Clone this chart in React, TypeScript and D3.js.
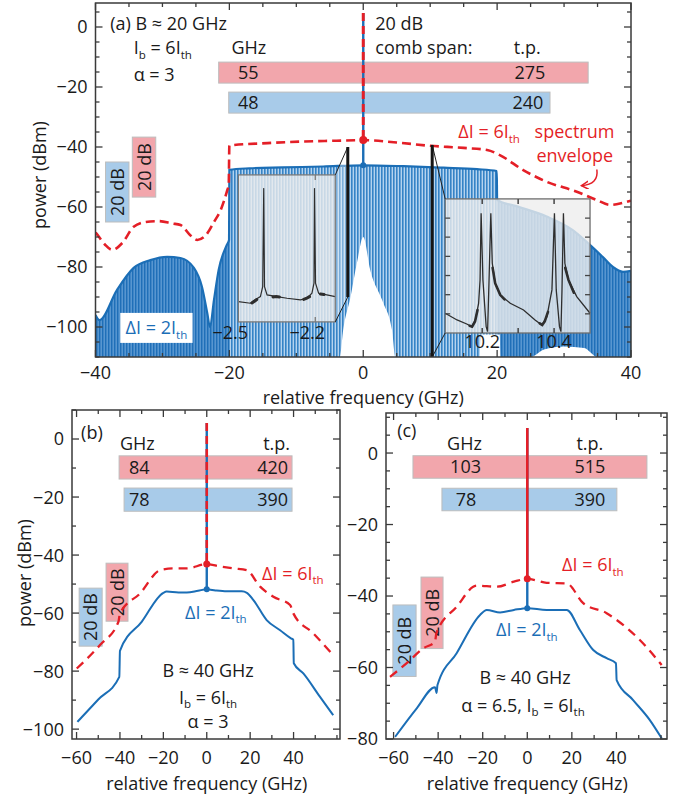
import React, { useEffect, useRef } from "react";
import * as d3 from "d3";

type Pt = [number, number];

// ---------- (a) B ≈ 20 GHz : x in GHz, y in dBm ----------
// upper edge of the ΔI = 2Ith comb lines
const combTopA: Pt[] = [
  [-40, -96], [-39.4, -97.7], [-36.8, -87.7], [-34.3, -80.3], [-31.8, -77.7], [-29.3, -76.6],
  [-27.3, -77], [-25.3, -80.3], [-24.1, -86.6], [-23.3, -95.4], [-22.9, -100], [-22.3, -91],
  [-21.6, -81], [-20.4, -72.7], [-20.05, -71], [-20, -47.6], [-17, -47.1], [-12, -46.8],
  [-6, -46.5], [0, -46.1], [6, -46.4], [12, -46.9], [17, -47.4], [19.95, -48], [20, -57.6],
  [23, -59.8], [27.4, -63.2], [31.3, -67.7], [33.9, -72.7], [35.8, -76.7], [37.3, -80],
  [38.8, -81.6], [40, -81.3],
];
// lower edge of the comb lines (white below it)
const combFloorA: Pt[] = [
  [-40, -110], [-3.5, -110], [-3, -101], [-1.9, -90], [-0.95, -78.7], [0, -70], [1.04, -81],
  [3, -92], [4.3, -101], [4.8, -110], [17.4, -110], [17.5, -102.5], [20.4, -102.5],
  [20.5, -110], [25, -110], [27, -107.5], [30, -106.5], [33, -107], [35, -110], [40, -110],
];
// ΔI = 6Ith spectrum envelope
const envelopeA: Pt[] = [
  [-40, -68.5], [-39.7, -69.3], [-38.6, -72.5], [-37.5, -74.3], [-36, -72], [-34.3, -66.6],
  [-32.5, -65], [-30.6, -64.7], [-28.5, -65.5], [-27.3, -66], [-25.8, -69.5], [-24.8, -71],
  [-23.3, -68.8], [-22.3, -65], [-21.3, -61], [-20.3, -54.3], [-20.1, -52.7], [-20, -39.5],
  [-14.3, -38.7], [-9.4, -38.2], [-4, -37.9], [0, -37.7], [5, -38.5], [10, -39.6], [15, -40.3],
  [18.5, -41], [20.4, -42.7], [23.9, -47.7], [27.4, -51.6], [31.9, -54.9], [34.9, -57.7],
  [36.9, -59.3], [38.8, -58.6], [40, -57.9],
];
const carrierA = { top: 4.7, red: -37.7, blue: -46.1 };
const spanA = { red: [-21.6, 33.6], blue: [-20.1, 27.9], redText: ["55", "275"], blueText: ["48", "240"] };

// inset line shapes (GHz, arb. units)
const insetLeftTrace: Pt[] = [
  [-2.5, 0.138], [-2.453, 0.127], [-2.44, 0.145], [-2.414, 0.172], [-2.405, 0.24], [-2.401, 0.91],
  [-2.398, 0.24], [-2.388, 0.184], [-2.349, 0.172], [-2.31, 0.161], [-2.258, 0.15], [-2.232, 0.161],
  [-2.213, 0.195], [-2.205, 0.263], [-2.203, 0.91], [-2.199, 0.263], [-2.187, 0.195],
  [-2.155, 0.184], [-2.122, 0.172],
];
const insetLeftBlobs: Pt[][] = [
  [[-2.447, 0.129], [-2.437, 0.14], [-2.428, 0.152]],
  [[-2.365, 0.17], [-2.352, 0.173], [-2.34, 0.169]],
  [[-2.245, 0.153], [-2.233, 0.162], [-2.222, 0.172]],
  [[-2.18, 0.19], [-2.166, 0.186]],
];
const insetRightTrace: Pt[] = [
  [10.097, 1.03], [10.13, 0.68], [10.157, 0.47], [10.171, 0.33], [10.181, 0.68], [10.19, 1.55],
  [10.194, 2.77], [10.197, 6.25], [10.202, 2.77], [10.211, 0.33], [10.215, 0.07], [10.219, 2.77],
  [10.224, 6.25], [10.228, 3.64], [10.236, 2.6], [10.25, 1.99], [10.278, 1.55], [10.315, 1.2],
  [10.347, 0.68], [10.366, 0.42], [10.38, 0.85], [10.394, 2.25], [10.401, 6.25], [10.406, 2.25],
  [10.415, 0.33], [10.419, 0.07], [10.422, 2.25], [10.426, 6.25], [10.43, 3.64], [10.44, 2.77],
  [10.463, 1.9], [10.5, 1.03],
];
const insetRightBlobs: Pt[][] = [
  [[10.165, 0.38], [10.172, 0.33], [10.18, 0.6], [10.187, 1.2]],
  [[10.36, 0.5], [10.367, 0.42], [10.374, 0.6], [10.383, 1.1]],
  [[10.229, 3.4], [10.236, 2.6], [10.25, 1.99], [10.262, 1.75]],
  [[10.431, 3.4], [10.44, 2.77], [10.455, 2.1]],
];

// ---------- (b) B ≈ 40 GHz, α = 3 ----------
const blueB: Pt[] = [
  [-59.6, -97.5], [-50, -89.8], [-40.3, -82], [-40, -73], [-30, -63], [-20, -53], [-18.5, -52.6],
  [-13, -52.9], [-9.2, -52.9], [-4, -52.3], [0, -51.8], [4, -52.2], [9.2, -52.5], [16.1, -52.5],
  [18.5, -53], [21.5, -55.5], [27.6, -62.4], [33.8, -65.9], [38.8, -68.7], [39.9, -69.2],
  [40.1, -77.3], [44.5, -80.8], [52.2, -88.9], [58.3, -95.2],
];
const redB: Pt[] = [
  [-59.9, -79.1], [-49.2, -71], [-40.7, -63], [-40, -60.1], [-30.7, -53.2], [-21.5, -45.2],
  [-15.4, -44.6], [-9.2, -44.6], [0, -43.1], [6, -43.9], [12.3, -44.6], [18.4, -45.2],
  [24.6, -50.9], [30.7, -54.4], [38.4, -57.2], [39.9, -60.1], [49.1, -67], [58.3, -74.5],
];
const carrierB = { top: 5.5, red: -43.1, blue: -51.8 };
const spanB = { red: [-40.4, 39.3], blue: [-38.1, 39.3], redText: ["84", "420"], blueText: ["78", "390"] };

// ---------- (c) B ≈ 40 GHz, α = 6.5 ----------
const blueC: Pt[] = [
  [-59.3, -79.4], [-49.6, -71.4], [-41.4, -65.5], [-40.7, -67.1], [-40.3, -64.9], [-31.7, -56],
  [-21.2, -45.3], [-18.2, -43.9], [-12.2, -44.6], [-6, -43.9], [0, -43.4], [8.7, -43.9],
  [17.7, -43.9], [23.6, -49.5], [29.6, -55.1], [35.6, -57.4], [39.8, -58.8], [40.1, -63.5],
  [47.5, -69.1], [55, -74.7], [60.3, -79.8],
];
const redC: Pt[] = [
  [-61.6, -62.6], [-54.1, -58.8], [-46.6, -54.6], [-41.4, -52.8], [-40.8, -50.4], [-31.7, -43],
  [-22.7, -37.1], [-13.7, -37.4], [-6, -36], [0, -35.2], [8.7, -36.3], [17.7, -36.5],
  [25.1, -42], [35.6, -44.8], [40.1, -46.7], [50.5, -52.3], [60.3, -59.3],
];
const carrierC = { top: 7, red: -35.2, blue: -43.4 };
const spanC = { red: [-51.3, 53.7], blue: [-38.3, 40.2], redText: ["103", "515"], blueText: ["78", "390"] };

const RED = "#e41f27";
const BLUE = "#1b6eb6";
const PINK_BOX = "#f2a6ac";
const BLUE_BOX = "#a8cbe9";
const INK = "#1a1a1a";
const FONT = "'Open Sans', 'Liberation Sans', sans-serif";
const FS = 18;

const fmt = (v: number) => (v < 0 ? "\u2212" + -v : String(v));

function addText(g: any, x: number, y: number, segs: any[], anchor = "start", color = INK, size = FS) {
  const t = g
    .append("text")
    .attr("x", x)
    .attr("y", y + size * 0.36)
    .attr("text-anchor", anchor)
    .attr("fill", color)
    .attr("font-size", size);
  const off = size * 0.26;
  let shifted = false;
  segs.forEach((s) => {
    if (Array.isArray(s)) {
      t.append("tspan").attr("font-size", size * 0.64).attr("dy", shifted ? 0 : off).text(s[0]);
      shifted = true;
    } else {
      t.append("tspan").attr("dy", shifted ? -off : 0).text(s);
      shifted = false;
    }
  });
  return t;
}

function frame(g: any, x: any, y: any, xt: number[], xl: number[], yt: number[], yl: number[], gap: number) {
  const [l, r] = x.range();
  const [b, t] = y.range();
  const tick = (x1: number, y1: number, x2: number, y2: number) =>
    g.append("line").attr("x1", x1).attr("y1", y1).attr("x2", x2).attr("y2", y2)
      .attr("stroke", "#3a3a3a").attr("stroke-width", 1.3);
  xt.forEach((v) => {
    const L = xl.includes(v) ? 7 : 4;
    tick(x(v), b, x(v), b - L);
    tick(x(v), t, x(v), t + L);
  });
  yt.forEach((v) => {
    const L = yl.includes(v) ? 7 : 4;
    tick(l, y(v), l + L, y(v));
    tick(r, y(v), r - L, y(v));
  });
  g.append("rect").attr("x", l).attr("y", t).attr("width", r - l).attr("height", b - t)
    .attr("fill", "none").attr("stroke", "#3a3a3a").attr("stroke-width", 1.5);
  xl.forEach((v) => addText(g, x(v), b + gap, [fmt(v)], "middle"));
  yl.forEach((v) => addText(g, l - 8, y(v), [fmt(v)], "end"));
}

function dbBox(g: any, x: any, y: any, x0: number, x1: number, top: number, fill: string) {
  const yt = y(top), yb = y(top - 20);
  g.append("rect").attr("x", x(x0)).attr("y", yt).attr("width", x(x1) - x(x0)).attr("height", yb - yt)
    .attr("fill", fill).attr("stroke", "#bdbdbd").attr("stroke-width", 1);
  const cx = (x(x0) + x(x1)) / 2, cy = (yt + yb) / 2;
  g.append("text").attr("transform", `translate(${cx + 6.5},${cy}) rotate(-90)`)
    .attr("text-anchor", "middle").attr("font-size", FS).attr("fill", INK).text("20 dB");
}

function spanBar(g: any, x: any, y: any, span: number[], mid: number, half: number, fill: string) {
  g.append("rect").attr("x", x(span[0])).attr("y", y(mid + half)).attr("width", x(span[1]) - x(span[0]))
    .attr("height", y(mid - half) - y(mid + half)).attr("fill", fill).attr("stroke", "#bdbdbd").attr("stroke-width", 1);
}

function stripes(defs: any, id: string, base: string, light: string, w: number) {
  const p = defs.append("pattern").attr("id", id).attr("patternUnits", "userSpaceOnUse")
    .attr("width", 3).attr("height", 400);
  p.append("rect").attr("width", 3).attr("height", 400).attr("fill", base);
  p.append("rect").attr("x", 1.6).attr("width", w).attr("height", 400).attr("fill", light);
}

function drawA(svg: any) {
  const x = d3.scaleLinear().domain([-40, 40]).range([95.5, 631]);
  const y = d3.scaleLinear().domain([-110, 8]).range([357, 3]);
  const defs = svg.append("defs");
  defs.append("clipPath").attr("id", "clipA").append("rect")
    .attr("x", 95.5).attr("y", 3).attr("width", 631 - 95.5).attr("height", 354);
  defs.append("clipPath").attr("id", "clipMid").append("rect")
    .attr("x", x(-20)).attr("y", 3).attr("width", x(20) - x(-20)).attr("height", 354);
  stripes(defs, "combDark", "#1f6fb8", "#6ea6db", 1.1);
  stripes(defs, "combLight", "#3583c6", "#b4d3ef", 1.4);
  const mk = defs.append("marker").attr("id", "arrowRed").attr("markerUnits", "userSpaceOnUse")
    .attr("markerWidth", 10).attr("markerHeight", 10).attr("refX", 7).attr("refY", 4).attr("orient", "auto");
  mk.append("path").attr("d", "M0,0 L7,4 L0,8").attr("fill", "none").attr("stroke", RED).attr("stroke-width", 1.5);

  const g = svg.append("g");
  const plot = g.append("g").attr("clip-path", "url(#clipA)");
  const area = d3.area<Pt>().x((d) => x(d[0])).y0(y(-110)).y1((d) => y(d[1])).curve(d3.curveMonotoneX);
  const line = d3.line<Pt>().x((d) => x(d[0])).y((d) => y(d[1])).curve(d3.curveMonotoneX);

  plot.append("path").attr("d", area(combTopA)).attr("fill", "url(#combDark)");
  plot.append("g").attr("clip-path", "url(#clipMid)").append("path").attr("d", area(combTopA))
    .attr("fill", "url(#combLight)");
  plot.append("path").attr("d", area(combFloorA)).attr("fill", "#fff");

  spanBar(plot, x, y, spanA.red, -15.2, 3.5, PINK_BOX);
  spanBar(plot, x, y, spanA.blue, -25.2, 3.5, BLUE_BOX);
  dbBox(plot, x, y, -34.5, -31, -36.7, PINK_BOX);
  dbBox(plot, x, y, -38.5, -35, -45, BLUE_BOX);

  plot.append("path").attr("d", line(combTopA)).attr("fill", "none").attr("stroke", BLUE).attr("stroke-width", 2.2);
  plot.append("line").attr("x1", x(0)).attr("x2", x(0)).attr("y1", y(carrierA.top)).attr("y2", y(carrierA.blue))
    .attr("stroke", BLUE).attr("stroke-width", 2.4);
  plot.append("circle").attr("cx", x(0)).attr("cy", y(carrierA.blue)).attr("r", 3).attr("fill", BLUE);
  plot.append("path").attr("d", line(envelopeA)).attr("fill", "none").attr("stroke", RED)
    .attr("stroke-width", 2.6).attr("stroke-dasharray", "9 5");
  plot.append("line").attr("x1", x(0)).attr("x2", x(0)).attr("y1", y(carrierA.top)).attr("y2", y(carrierA.red))
    .attr("stroke", RED).attr("stroke-width", 3).attr("stroke-dasharray", "8 5");
  plot.append("circle").attr("cx", x(0)).attr("cy", y(carrierA.red)).attr("r", 4).attr("fill", RED);

  // ---- left inset (zoom around −2.3 GHz)
  const l0 = x(-18.66), l1 = x(-4.18), lt = y(-49.3), lb = y(-98.3);
  const xi1 = d3.scaleLinear().domain([-2.5, -2.122]).range([l0, l1]);
  const yi1 = d3.scaleLinear().domain([0, 1]).range([lb, lt]);
  const barL = x(-2.31);
  plot.append("path")
    .attr("d", `M${l1},${lt} L${barL},${y(-40)} L${barL},${y(-90)} L${l1},${lb} Z`)
    .attr("fill", "#fff").attr("opacity", 0.35);
  plot.append("rect").attr("x", l0).attr("y", lt).attr("width", l1 - l0).attr("height", lb - lt)
    .attr("fill", "#eeeeee").attr("opacity", 0.8);
  const iline1 = d3.line<Pt>().x((d) => xi1(d[0])).y((d) => yi1(d[1]));
  plot.append("path").attr("d", iline1(insetLeftTrace)).attr("fill", "none").attr("stroke", "#2e2e2e").attr("stroke-width", 1.2);
  insetLeftBlobs.forEach((b) =>
    plot.append("path").attr("d", iline1(b)).attr("fill", "none").attr("stroke", "#2e2e2e").attr("stroke-width", 3).attr("stroke-linecap", "round"));
  plot.append("rect").attr("x", l0).attr("y", lt).attr("width", l1 - l0).attr("height", lb - lt)
    .attr("fill", "none").attr("stroke", "#7a7a7a").attr("stroke-width", 1.3);
  [-2.2].forEach((v) => {
    plot.append("line").attr("x1", xi1(v)).attr("x2", xi1(v)).attr("y1", lt).attr("y2", lt + 5).attr("stroke", "#7a7a7a").attr("stroke-width", 1.3);
    plot.append("line").attr("x1", xi1(v)).attr("x2", xi1(v)).attr("y1", lb).attr("y2", lb - 5).attr("stroke", "#7a7a7a").attr("stroke-width", 1.3);
  });
  plot.append("line").attr("x1", l1).attr("y1", lt).attr("x2", barL).attr("y2", y(-40)).attr("stroke", "#222").attr("stroke-width", 1);
  plot.append("line").attr("x1", l1).attr("y1", lb).attr("x2", barL).attr("y2", y(-90)).attr("stroke", "#222").attr("stroke-width", 1);
  plot.append("line").attr("x1", barL).attr("x2", barL).attr("y1", y(-40)).attr("y2", y(-90)).attr("stroke", "#151515").attr("stroke-width", 3);
  [-2.5, -2.2].forEach((v) => addText(g, xi1(v) - 8, lb + 11, [fmt(v)], "middle"));

  // ---- right inset (zoom around 10.3 GHz)
  const r0 = x(12.24), r1 = x(33.88), rt = y(-57.3), rb = y(-102);
  const xi2 = d3.scaleLinear().domain([10.097, 10.5]).range([r0, r1]);
  const yi2 = d3.scaleLinear().domain([0, 7]).range([rb, rt]);
  const barR = x(10.3);
  plot.append("rect").attr("x", r0).attr("y", rt).attr("width", r1 - r0).attr("height", rb - rt)
    .attr("fill", "#eeeeee").attr("opacity", 0.8);
  const iline2 = d3.line<Pt>().x((d) => xi2(d[0])).y((d) => yi2(d[1]));
  plot.append("path").attr("d", iline2(insetRightTrace)).attr("fill", "none").attr("stroke", "#2e2e2e").attr("stroke-width", 1.3);
  insetRightBlobs.forEach((b) =>
    plot.append("path").attr("d", iline2(b)).attr("fill", "none").attr("stroke", "#2e2e2e").attr("stroke-width", 2.6).attr("stroke-linecap", "round"));
  plot.append("rect").attr("x", r0).attr("y", rt).attr("width", r1 - r0).attr("height", rb - rt)
    .attr("fill", "none").attr("stroke", "#6e6e6e").attr("stroke-width", 1.3);
  [10.2, 10.3, 10.4].forEach((v) => {
    plot.append("line").attr("x1", xi2(v)).attr("x2", xi2(v)).attr("y1", rt).attr("y2", rt + 5).attr("stroke", "#444").attr("stroke-width", 1.5);
    plot.append("line").attr("x1", xi2(v)).attr("x2", xi2(v)).attr("y1", rb).attr("y2", rb - 5).attr("stroke", "#444").attr("stroke-width", 1.5);
  });
  d3.range(1, 7).forEach((v) => {
    plot.append("line").attr("x1", r0).attr("x2", r0 + 5).attr("y1", yi2(v)).attr("y2", yi2(v)).attr("stroke", "#444").attr("stroke-width", 1.3);
    plot.append("line").attr("x1", r1).attr("x2", r1 - 5).attr("y1", yi2(v)).attr("y2", yi2(v)).attr("stroke", "#444").attr("stroke-width", 1.3);
  });
  plot.append("line").attr("x1", barR).attr("y1", y(-39.3)).attr("x2", r0).attr("y2", rt).attr("stroke", "#222").attr("stroke-width", 1);
  plot.append("line").attr("x1", barR).attr("y1", y(-110)).attr("x2", r0).attr("y2", rb).attr("stroke", "#222").attr("stroke-width", 1);
  plot.append("line").attr("x1", barR).attr("x2", barR).attr("y1", y(-39.3)).attr("y2", y(-110)).attr("stroke", "#151515").attr("stroke-width", 3);
  [10.2, 10.4].forEach((v) => addText(g, xi2(v), rb + 9, [String(v)], "middle"));

  // ---- labels
  plot.append("rect").attr("x", x(-36.3)).attr("y", y(-95.3)).attr("width", x(-25.5) - x(-36.3))
    .attr("height", y(-105.3) - y(-95.3)).attr("fill", "#fff");
  addText(g, x(-30.9), y(-100.3), ["\u0394I = 2I", ["th"]], "middle", BLUE);
  addText(g, x(-37.8), y(1.3), ["(a) B \u2248 20 GHz"]);
  addText(g, x(-34.3), y(-6.9), ["I", ["b"], " = 6I", ["th"]]);
  addText(g, x(-34.3), y(-15.8), ["\u03b1 = 3"]);
  addText(g, x(-19.7), y(-6.7), ["GHz"]);
  addText(g, x(1.8), y(1.3), ["20 dB"]);
  addText(g, x(1.8), y(-6.7), ["comb span:"]);
  addText(g, x(22.5), y(-6.7), ["t.p."]);
  addText(g, x(-18.7), y(-15.2), [spanA.redText[0]]);
  addText(g, x(27.2), y(-15.2), [spanA.redText[1]], "end");
  addText(g, x(-18.7), y(-25.2), [spanA.blueText[0]]);
  addText(g, x(26.9), y(-25.2), [spanA.blueText[1]], "end");
  addText(g, x(14.2), y(-35), ["\u0394I = 6I", ["th"]], "start", RED);
  addText(g, x(25.6), y(-35), ["spectrum"], "start", RED);
  addText(g, x(31.6), y(-43), ["envelope"], "middle", RED);
  g.append("path")
    .attr("d", `M${x(34.9)},${y(-47.5)} Q${x(35.2)},${y(-52.5)} ${x(32.6)},${y(-52.9)}`)
    .attr("fill", "none").attr("stroke", RED).attr("stroke-width", 1.5).attr("marker-end", "url(#arrowRed)");

  frame(g, x, y, d3.range(-40, 40.01, 5), [-40, -20, 0, 20, 40], d3.range(-110, 5.01, 5),
    [0, -20, -40, -60, -80, -100], 16);
  addText(g, x(0), 397.5, ["relative frequency (GHz)"], "middle");
  g.append("text").attr("transform", "translate(46,175) rotate(-90)").attr("text-anchor", "middle")
    .attr("font-size", FS).attr("fill", INK).text("power (dBm)");
}

function drawSmall(svg: any, o: any) {
  const x = d3.scaleLinear().domain(o.xd).range(o.xr);
  const y = d3.scaleLinear().domain(o.yd).range(o.yr);
  svg.select("defs").append("clipPath").attr("id", o.id).append("rect")
    .attr("x", o.xr[0]).attr("y", o.yr[1]).attr("width", o.xr[1] - o.xr[0]).attr("height", o.yr[0] - o.yr[1]);
  const g = svg.append("g");
  const plot = g.append("g").attr("clip-path", `url(#${o.id})`);
  const line = d3.line<Pt>().x((d) => x(d[0])).y((d) => y(d[1])).curve(d3.curveMonotoneX);

  spanBar(plot, x, y, o.span.red, o.barRed, o.barHalf, PINK_BOX);
  spanBar(plot, x, y, o.span.blue, o.barBlue, o.barHalf, BLUE_BOX);
  dbBox(plot, x, y, o.boxRed[0], o.boxRed[1], o.boxRed[2], PINK_BOX);
  dbBox(plot, x, y, o.boxBlue[0], o.boxBlue[1], o.boxBlue[2], BLUE_BOX);

  plot.append("path").attr("d", line(o.blue)).attr("fill", "none").attr("stroke", BLUE).attr("stroke-width", 2);
  plot.append("path").attr("d", line(o.red)).attr("fill", "none").attr("stroke", RED)
    .attr("stroke-width", 2.3).attr("stroke-dasharray", "9 6");
  plot.append("line").attr("x1", x(0)).attr("x2", x(0)).attr("y1", y(o.carrier.top)).attr("y2", y(o.carrier.blue))
    .attr("stroke", BLUE).attr("stroke-width", 2.4);
  plot.append("circle").attr("cx", x(0)).attr("cy", y(o.carrier.blue)).attr("r", 3).attr("fill", BLUE);
  plot.append("line").attr("x1", x(0)).attr("x2", x(0)).attr("y1", y(o.carrier.top)).attr("y2", y(o.carrier.red))
    .attr("stroke", RED).attr("stroke-width", 2.6).attr("stroke-dasharray", o.solidSpike ? null : "8 5");
  plot.append("circle").attr("cx", x(0)).attr("cy", y(o.carrier.red)).attr("r", 3.5).attr("fill", RED);

  o.texts.forEach((t: any) => addText(g, x(t[0]), y(t[1]), t[2], t[3] || "start", t[4] || INK));

  frame(g, x, y, d3.range(-60, 60.01, 10), [-60, -40, -20, 0, 20, 40], o.yt, o.yl, 19);
  addText(g, x(0), 784, ["relative frequency (GHz)"], "middle");
}

export default function App() {
  const ref = useRef<SVGSVGElement>(null);
  useEffect(() => {
    const svg = d3.select(ref.current);
    svg.selectAll("*").remove();
    svg.append("rect").attr("width", 685).attr("height", 798).attr("fill", "#fff");
    drawA(svg);

    drawSmall(svg, {
      id: "clipB", xd: [-62.1, 61.4], xr: [72, 340], yd: [-103.4, 10], yr: [739, 410],
      blue: blueB, red: redB, carrier: carrierB, span: spanB, barRed: -9.8, barBlue: -20.9, barHalf: 4,
      boxRed: [-46.4, -36.3, -42.8], boxBlue: [-58.8, -48.2, -51.4],
      yt: d3.range(-100, 10.01, 10), yl: [0, -20, -40, -60, -80, -100],
      texts: [
        [-57.9, 2.4, ["(b)"]],
        [-40, -1.4, ["GHz"]],
        [38.4, -1.4, ["t.p."], "end"],
        [-35.8, -9.8, [spanB.redText[0]]],
        [37.5, -9.8, [spanB.redText[1]], "end"],
        [-35.8, -20.9, [spanB.blueText[0]]],
        [37.5, -20.9, [spanB.blueText[1]], "end"],
        [25.5, -46.2, ["\u0394I = 6I", ["th"]], "start", RED],
        [-10, -59.7, ["\u0394I = 2I", ["th"]], "start", BLUE],
        [0.6, -79.7, ["B \u2248 40 GHz"], "middle"],
        [0.6, -89, ["I", ["b"], " = 6I", ["th"]], "middle"],
        [0.6, -97.4, ["\u03b1 = 3"], "middle"],
      ],
    });
    svg.append("text").attr("transform", "translate(31,573) rotate(-90)").attr("text-anchor", "middle")
      .attr("font-size", FS).attr("fill", INK).text("power (dBm)");

    drawSmall(svg, {
      id: "clipC", xd: [-63.4, 62.7], xr: [386, 667], yd: [-80, 11.2], yr: [739, 413],
      blue: blueC, red: redC, carrier: carrierC, span: spanC, barRed: -3.9, barBlue: -13, barHalf: 3.15,
      boxRed: [-47.7, -37.8, -34.7], boxBlue: [-60.3, -49.9, -42.5], solidSpike: true,
      yt: d3.range(-80, 10.01, 5), yl: [0, -20, -40, -60, -80],
      texts: [
        [-58.4, 6.4, ["(c)"]],
        [-36, 2.8, ["GHz"]],
        [28.1, 2.8, ["t.p."], "middle"],
        [-27.7, -3.9, [spanC.redText[0]], "middle"],
        [28.1, -3.9, [spanC.redText[1]], "middle"],
        [-27.5, -13.1, [spanC.blueText[0]], "middle"],
        [28.1, -13.1, [spanC.blueText[1]], "middle"],
        [15.6, -31.3, ["\u0394I = 6I", ["th"]], "start", RED],
        [-14, -49.5, ["\u0394I = 2I", ["th"]], "start", BLUE],
        [-1, -62.9, ["B \u2248 40 GHz"], "middle"],
        [-1.9, -70.5, ["\u03b1 = 6.5, I", ["b"], " = 6I", ["th"]], "middle"],
      ],
    });
  }, []);

  return (
    <svg
      ref={ref}
      width={685}
      height={798}
      style={{ position: "absolute", left: 0, top: 0, fontFamily: FONT }}
    />
  );
}
